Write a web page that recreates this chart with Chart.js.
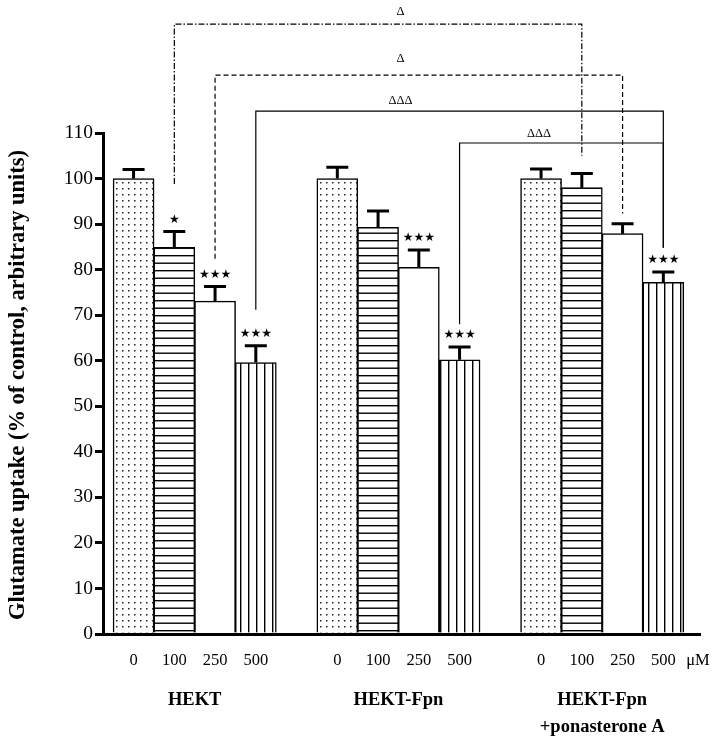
<!DOCTYPE html>
<html><head><meta charset="utf-8">
<script src="https://cdn.jsdelivr.net/npm/chart.js@4"></script>
<style>html,body{margin:0;padding:0;background:#fff}#wrap{width:728px;height:741px;position:relative}</style>
</head><body><div id="wrap"><canvas id="c"></canvas></div>
<script>
// ---- data ----
const groupLabels = [['HEKT'], ['HEKT-Fpn'], ['HEKT-Fpn', '+ponasterone A']];
const doseLabels = ['0', '100', '250', '500'];
const unitLabel = 'μM';
const yTickValues = [0, 10, 20, 30, 40, 50, 60, 70, 80, 90, 100, 110];
const yTitle = 'Glutamate uptake (% of control, arbitrary units)';

const hektValues = [100, 84.9, 73.1, 59.6];
const hektErrors = [2.0, 3.5, 3.2, 3.7];
const fpnValues = [100, 89.3, 80.5, 60.2];
const fpnErrors = [2.5, 3.6, 3.8, 2.8];
const ponValues = [100, 98.0, 87.9, 77.2];
const ponErrors = [2.1, 3.1, 2.2, 2.3];

const hektStars = ['', '★', '★★★', '★★★'];
const fpnStars = ['', '', '★★★', '★★★'];
const ponStars = ['', '', '', '★★★'];

// comparison brackets: [group, dose] endpoints, bracket level & feet in y-units
const cmpFrom = [[0, 1], [0, 2], [0, 3], [1, 3]];
const cmpTo = [[2, 1], [2, 2], [2, 3], [2, 3]];
const cmpLevel = [133.9, 122.7, 114.8, 107.8];
const cmpFootFrom = [98.8, 82.4, 71.2, 68.0];
const cmpFootTo = [105.0, 92.3, 84.8, 84.8];
const cmpText = ['Δ', 'Δ', 'ΔΔΔ', 'ΔΔΔ'];
const cmpTextSlot = [6.55, 6.55, 6.55, 9.95];
const cmpTextLevel = [136.7, 126.2, 117.0, 109.8];
const cmpStyle = ['dashdot', 'dashed', 'solid', 'solid'];

// ---- build ----
const allValues = [hektValues, fpnValues, ponValues];
const allErrors = [hektErrors, fpnErrors, ponErrors];
const allStars = [hektStars, fpnStars, ponStars];
const SLOTS_PER_GROUP = doseLabels.length + 1;
const slotOf = (g, i) => g * SLOTS_PER_GROUP + i;

const canvas = document.getElementById('c');
const mainCtx = canvas.getContext('2d');

function makePattern(kind) {
  if (kind === 'blank') return '#ffffff';
  const c = document.createElement('canvas');
  const x = c.getContext('2d');
  if (kind === 'dots') {
    c.width = 6; c.height = 6;
    x.fillStyle = '#fff'; x.fillRect(0, 0, 6, 6);
    x.fillStyle = '#222'; x.fillRect(2, 2, 1.5, 1.5);
  } else if (kind === 'hlines') {
    c.width = 4; c.height = 15;
    x.fillStyle = '#fff'; x.fillRect(0, 0, 4, 15);
    x.fillStyle = '#000'; x.fillRect(0, 0, 4, 1.4); x.fillRect(0, 7.5, 4, 1.4);
  } else if (kind === 'vlines') {
    c.width = 8; c.height = 4;
    x.fillStyle = '#fff'; x.fillRect(0, 0, 8, 4);
    x.fillStyle = '#000'; x.fillRect(0, 0, 1.4, 4);
  }
  return mainCtx.createPattern(c, 'repeat');
}
const doseFills = [makePattern('dots'), makePattern('hlines'), makePattern('blank'), makePattern('vlines')];

const points = [], fills = [], errs = [], starTexts = [];
allValues.forEach((vals, g) => vals.forEach((v, i) => {
  points.push({ x: slotOf(g, i), y: v });
  fills.push(doseFills[i]);
  errs.push(allErrors[g][i]);
  starTexts.push(allStars[g][i]);
}));
const xTickSlots = [];
const xTickTexts = [];
allValues.forEach((vals, g) => vals.forEach((v, i) => { xTickSlots.push(slotOf(g, i)); xTickTexts.push(doseLabels[i]); }));

const X_MIN = -0.75, X_MAX = 13.9;
xTickSlots.push(X_MAX - 0.05); xTickTexts.push(unitLabel);

const SERIF = '"Liberation Serif", "Times New Roman", serif';

const overlay = {
  id: 'overlay',
  afterDatasetsDraw(chart) {
    const { ctx } = chart;
    const xs = chart.scales.x, ys = chart.scales.y;
    ctx.save();
    ctx.strokeStyle = '#000'; ctx.lineWidth = 3; ctx.lineCap = 'butt';
    points.forEach((p, k) => {
      const px = xs.getPixelForValue(p.x);
      const y0 = ys.getPixelForValue(p.y);
      const y1 = ys.getPixelForValue(p.y + errs[k]);
      ctx.beginPath(); ctx.moveTo(px, y0); ctx.lineTo(px, y1);
      ctx.moveTo(px - 11, y1); ctx.lineTo(px + 11, y1); ctx.stroke();
      if (starTexts[k]) {
        ctx.fillStyle = '#000';
        ctx.font = '12px "DejaVu Sans"';
        ctx.textAlign = 'center'; ctx.textBaseline = 'middle';
        ctx.fillText(starTexts[k], px, y1 - 12);
      }
    });
    ctx.restore();
  },
  afterDraw(chart) {
    const { ctx } = chart;
    const xs = chart.scales.x, ys = chart.scales.y;
    ctx.save();
    cmpFrom.forEach((f, k) => {
      const xa = xs.getPixelForValue(slotOf(f[0], f[1]));
      const xb = xs.getPixelForValue(slotOf(cmpTo[k][0], cmpTo[k][1]));
      const yl = ys.getPixelForValue(cmpLevel[k]);
      const ya = ys.getPixelForValue(cmpFootFrom[k]);
      const yb = ys.getPixelForValue(cmpFootTo[k]);
      ctx.strokeStyle = '#000'; ctx.lineWidth = 1.2;
      if (cmpStyle[k] === 'dashdot') ctx.setLineDash([6, 2, 1.5, 2]);
      else if (cmpStyle[k] === 'dashed') ctx.setLineDash([5, 3]);
      else ctx.setLineDash([]);
      ctx.beginPath(); ctx.moveTo(xa, ya); ctx.lineTo(xa, yl); ctx.lineTo(xb, yl); ctx.lineTo(xb, yb); ctx.stroke();
      ctx.setLineDash([]);
      ctx.fillStyle = '#000'; ctx.font = '12.5px ' + SERIF;
      ctx.textAlign = 'center'; ctx.textBaseline = 'middle';
      ctx.fillText(cmpText[k], xs.getPixelForValue(cmpTextSlot[k]), ys.getPixelForValue(cmpTextLevel[k]));
    });
    ctx.font = 'bold 18.5px ' + SERIF; ctx.fillStyle = '#000';
    ctx.textAlign = 'center'; ctx.textBaseline = 'middle';
    groupLabels.forEach((lines, g) => {
      const cx = xs.getPixelForValue(slotOf(g, (doseLabels.length - 1) / 2));
      lines.forEach((t, li) => ctx.fillText(t, cx, 700 + li * 27));
    });
    ctx.translate(18, 385);
    ctx.rotate(-Math.PI / 2);
    ctx.font = 'bold 22.5px ' + SERIF;
    ctx.fillText(yTitle, 0, 0);
    ctx.restore();
  }
};

new Chart(canvas, {
  type: 'bar',
  data: {
    datasets: [{
      data: points,
      backgroundColor: fills,
      borderColor: '#000',
      borderWidth: 1.5,
      barThickness: 41
    }]
  },
  options: {
    responsive: true,
    maintainAspectRatio: false,
    animation: false,
    layout: { padding: { top: 133, right: 28, left: 0, bottom: 0 } },
    plugins: { legend: { display: false }, tooltip: { enabled: false } },
    scales: {
      x: {
        type: 'linear', min: X_MIN, max: X_MAX, offset: false,
        grid: { display: false, drawTicks: false },
        border: { display: true, width: 3, color: '#000' },
        afterBuildTicks: (s) => { s.ticks = xTickSlots.map(v => ({ value: v })); },
        afterFit: (s) => { s.height = 107; },
        ticks: {
          autoSkip: false, maxRotation: 0, padding: 17, color: '#000',
          font: { family: SERIF, size: 16.5 },
          callback: (v, i) => xTickTexts[i]
        }
      },
      y: {
        min: 0, max: 110,
        afterBuildTicks: (s) => { s.ticks = yTickValues.map(v => ({ value: v })); },
        afterFit: (s) => { s.width = 103; },
        grid: { drawOnChartArea: false, drawTicks: true, tickLength: 8, lineWidth: 3, color: '#000' },
        border: { display: true, width: 3, color: '#000' },
        ticks: { color: '#000', padding: 2, font: { family: SERIF, size: 19.5 } }
      }
    }
  },
  plugins: [overlay]
});
</script></body></html>
